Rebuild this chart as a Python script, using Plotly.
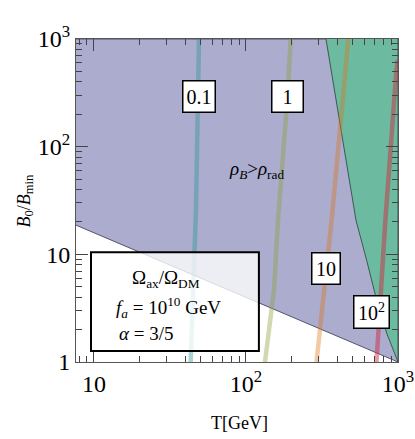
import math
import plotly.graph_objects as go

# ---- data ----
rho_T = [7.6, 1000]          # rho_B = rho_rad boundary
rho_B = [18.7, 1.0]

green_T = [336, 529, 622, 724, 843, 980, 1000]
green_B = [1000, 20.8, 8.8, 3.75, 1.85, 1.1, 1.0]

c01_T = [43.3, 46.9, 49.1]
c01_B = [1.0, 25.8, 1000]
c1_T = [133.4, 152.8, 162.5, 187, 197]
c1_B = [1.0, 4.64, 20.8, 272, 1000]
c10_T = [291, 331, 366, 433, 471]
c10_B = [1.0, 5.75, 20.8, 272, 1000]
c100_T = [722, 782, 826, 977, 1000]
c100_B = [1.0, 5.75, 20.8, 517, 641]

contour_labels = ["0.1", "1", "10", "10<sup>2</sup>"]
label_T = [49.4, 186.2, 335.7, 666.8]
label_B = [290, 290, 7.45, 2.94]

x_tickvals = [10, 100, 1000]
x_ticktext = ["10", "10<sup>2</sup>", "10<sup>3</sup>"]
y_tickvals = [1, 10, 100, 1000]
y_ticktext = ["1", "10", "10<sup>2</sup>", "10<sup>3</sup>"]

x_min, x_max = 7.62, 1000
y_min, y_max = 1, 1000

FONT = "Liberation Serif"
PURPLE = "rgb(172,172,206)"
GREEN = "rgb(108,186,160)"

fig = go.Figure()

# purple region: rho_B > rho_rad (above boundary)
fig.add_trace(go.Scatter(
    x=rho_T + [x_max, x_min], y=rho_B + [y_max, y_max],
    fill="toself", fillcolor=PURPLE, mode="lines",
    line=dict(color="rgba(70,70,100,0.9)", width=1), hoverinfo="skip", showlegend=False))

# green region
fig.add_trace(go.Scatter(
    x=green_T + [x_max], y=green_B + [y_max],
    fill="toself", fillcolor=GREEN, mode="lines",
    line=dict(color="rgba(50,80,70,0.9)", width=1), hoverinfo="skip", showlegend=False))

# contour lines
for xs, ys, col in [(c01_T, c01_B, "rgba(40,150,150,0.4)"),
                    (c1_T, c1_B, "rgba(140,160,60,0.4)"),
                    (c10_T, c10_B, "rgba(220,115,20,0.38)"),
                    (c100_T, c100_B, "rgba(215,30,55,0.45)")]:
    fig.add_trace(go.Scatter(x=xs, y=ys, mode="lines",
                             line=dict(color=col, width=4.5),
                             hoverinfo="skip", showlegend=False))

# contour labels
sizes = [(29, 28), (28, 28), (25, 28), (32, 29)]
for t, b, txt, (w, h) in zip(label_T, label_B, contour_labels, sizes):
    fig.add_annotation(x=math.log10(t), y=math.log10(b),
                       text=txt, showarrow=False, width=w, height=h,
                       bgcolor="white", bordercolor="black", borderwidth=1.5, borderpad=1,
                       font=dict(family=FONT, size=20, color="black"))

# region label
fig.add_annotation(x=2.072, y=1.783, xref="x", yref="y", showarrow=False,
                   text="<i>ρ<sub>B</sub></i>><i>ρ</i><sub>rad</sub>",
                   font=dict(family=FONT, size=19, color="black"))

# legend box
fig.add_shape(type="rect", xref="paper", yref="paper",
              x0=0.0466, x1=0.568, y0=0.034, y1=0.34,
              fillcolor="rgba(255,255,255,0.78)", line=dict(color="black", width=2))
fig.add_annotation(xref="paper", yref="paper", x=0.168, y=0.215, xanchor="left", showarrow=False,
                   text="Ω<sub>ax</sub>/Ω<sub>DM</sub>",
                   font=dict(family=FONT, size=19, color="black"))
fig.add_annotation(xref="paper", yref="paper", x=0.119, y=0.12, xanchor="left", showarrow=False,
                   text="<i>f<sub>a</sub></i> = 10<sup>10</sup> GeV",
                   font=dict(family=FONT, size=19, color="black"))
fig.add_annotation(xref="paper", yref="paper", x=0.127, y=0.05, xanchor="left", showarrow=False,
                   text="<i>α</i> = 3/5",
                   font=dict(family=FONT, size=19, color="black"))

# axis titles
fig.add_annotation(xref="paper", yref="paper", x=0.509, y=-0.225, showarrow=False,
                   text="T[GeV]", font=dict(family=FONT, size=18, color="black"))
fig.add_annotation(xref="paper", yref="paper", x=-0.2, y=0.50, showarrow=False, textangle=-90,
                   text="<i>B</i><sub>0</sub>/<i>B</i><sub>min</sub>",
                   font=dict(family=FONT, size=18, color="black"))

minor_x = [m * d for d in [1, 10, 100] for m in range(2, 10) if x_min <= m * d <= x_max]
minor_y = [m * d for d in [1, 10, 100] for m in range(2, 10)]

axis_common = dict(type="log", showgrid=False, zeroline=False, showline=True,
                   linecolor="#555", linewidth=1, mirror="allticks", automargin=False,
                   ticks="inside", ticklen=12, tickcolor="#444", tickwidth=1,
                   tickfont=dict(family=FONT, size=24, color="black"))

fig.update_xaxes(range=[0.882, 3], tickvals=x_tickvals, ticktext=x_ticktext,
                 minor=dict(tickmode="array", tickvals=minor_x, ticks="inside", ticklen=6,
                            tickcolor="#444", showgrid=False),
                 **axis_common)
fig.update_yaxes(range=[0, 3], tickvals=y_tickvals, ticktext=y_ticktext,
                 minor=dict(tickmode="array", tickvals=minor_y, ticks="inside", ticklen=6,
                            tickcolor="#444", showgrid=False),
                 **axis_common)

fig.update_layout(width=415, height=439, margin=dict(l=76, r=17, t=39, b=77),
                  paper_bgcolor="white", plot_bgcolor="white", showlegend=False)

# remove the default 8px page margin so the figure fills the window exactly
fig.write_html("out.html", config={"displayModeBar": False},
               post_script="document.body.style.margin='0';document.body.style.overflow='hidden';")
